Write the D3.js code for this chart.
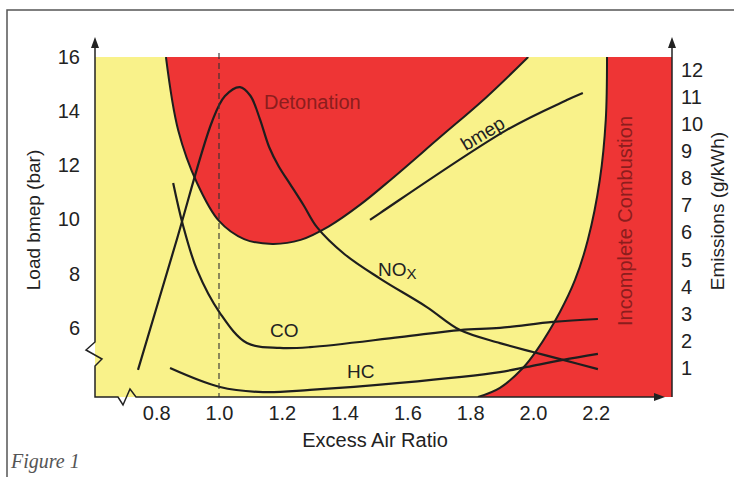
<!DOCTYPE html>
<html>
<head>
<meta charset="utf-8">
<script src="https://cdn.jsdelivr.net/npm/d3@7"></script>
<style>
  body { margin: 0; background: #fff; }
</style>
</head>
<body>
<script>
// axis ticks
var xTicks = [0.8, 1.0, 1.2, 1.4, 1.6, 1.8, 2.0, 2.2];
var bmepTicks = [6, 8, 10, 12, 14, 16];
var emisTicks = [1, 2, 3, 4, 5, 6, 7, 8, 9, 10, 11, 12];

// detonation limit (excess air ratio vs load bmep)
var detLambda = [0.831, 0.87, 0.93, 1.0, 1.08, 1.17, 1.26, 1.35, 1.45, 1.55, 1.70, 1.85, 1.985];
var detBmep   = [16.0, 13.3, 11.35, 9.95, 9.28, 9.1, 9.25, 9.75, 10.55, 11.5, 13.0, 14.5, 16.0];

// incomplete combustion limit (top to bottom)
var incLambda = [2.236, 2.232, 2.213, 2.175, 2.134, 2.086, 2.013, 1.968, 1.895, 1.825];
var incBmep   = [16.0, 13.68, 11.46, 9.25, 7.77, 6.59, 5.19, 4.52, 3.79, 3.45];

// bmep line
var bmepLambda = [1.481, 1.513, 1.917, 2.108, 2.159];
var bmepValues = [9.99, 10.24, 13.31, 14.41, 14.67];

// emissions (g/kWh)
var noxLambda = [0.742, 0.86, 0.978, 1.019, 1.067, 1.10, 1.13, 1.16, 1.19, 1.226, 1.27, 1.312, 1.40, 1.513, 1.662, 1.768, 1.895, 2.0, 2.096, 2.207];
var noxValues = [0.93, 5.52, 10.1, 11.04, 11.37, 11.05, 10.2, 9.15, 8.45, 7.8, 7.0, 6.2, 5.2, 4.3, 3.25, 2.40, 1.92, 1.59, 1.30, 0.96];
var coLambda = [0.854, 0.885, 0.930, 1.003, 1.089, 1.194, 1.290, 1.576, 1.768, 1.895, 2.064, 2.207];
var coValues = [7.83, 6.28, 4.62, 3.03, 1.92, 1.74, 1.77, 2.14, 2.40, 2.48, 2.70, 2.81];
var hcLambda = [0.844, 1.003, 1.140, 1.290, 1.576, 1.895, 1.981, 2.096, 2.207];
var hcValues = [1.0, 0.30, 0.11, 0.19, 0.45, 0.85, 1.04, 1.30, 1.52];

var w = 734, h = 477;
var pLeft = 95, pRight = 672, pTop = 57, pBottom = 397;
var yellow = "#f9f28a", red = "#ee3535", darkRed = "#8c1d1d", ink = "#1e1e1e";

var svg = d3.select("body").append("svg").attr("width", w).attr("height", h)
  .attr("font-family", "'Liberation Sans', Arial, sans-serif");

var x = d3.scaleLinear().domain([0.605, 2.443]).range([pLeft, pRight]);
var yL = d3.scaleLinear().domain([3.45, 16]).range([pBottom, pTop]);
var yR = d3.scaleLinear().domain([-0.07, 12.48]).range([pBottom, pTop]);

function pts(xs, ys) { return xs.map(function(v, i) { return [v, ys[i]]; }); }

// page border
svg.append("path").attr("d", "M7,477 L7,10 L734,10")
  .attr("fill", "none").attr("stroke", "#555").attr("stroke-width", 1.5);

svg.append("defs").append("clipPath").attr("id", "plot")
  .append("rect").attr("x", pLeft).attr("y", pTop).attr("width", pRight - pLeft).attr("height", pBottom - pTop);

var plot = svg.append("g").attr("clip-path", "url(#plot)");
plot.append("rect").attr("x", pLeft).attr("y", pTop).attr("width", pRight - pLeft).attr("height", pBottom - pTop)
  .attr("fill", yellow);

var curveL = d3.line().x(function(d) { return x(d[0]); }).y(function(d) { return yL(d[1]); })
  .curve(d3.curveCatmullRom.alpha(0.5));
var curveR = d3.line().x(function(d) { return x(d[0]); }).y(function(d) { return yR(d[1]); })
  .curve(d3.curveCatmullRom.alpha(0.5));

// red zones
var det = pts(detLambda, detBmep);
plot.append("path").attr("d", curveL(det) + "Z").attr("fill", red);
var inc = pts(incLambda, incBmep);
plot.append("path").attr("d", curveL(inc) + "L" + pRight + "," + pBottom + "L" + pRight + "," + pTop + "Z")
  .attr("fill", red);
plot.append("path").attr("d", curveL(det)).attr("fill", "none").attr("stroke", ink).attr("stroke-width", 2);
plot.append("path").attr("d", curveL(inc)).attr("fill", "none").attr("stroke", ink).attr("stroke-width", 2);

// lambda = 1 dashed line
svg.append("line").attr("x1", x(1)).attr("x2", x(1)).attr("y1", pTop - 4).attr("y2", pBottom)
  .attr("stroke", "#333").attr("stroke-width", 1.1).attr("stroke-dasharray", "6,4");

// curves
var lineStyle = function(sel) { sel.attr("fill", "none").attr("stroke", ink).attr("stroke-width", 2.2); };
plot.append("path").attr("d", curveL(pts(bmepLambda, bmepValues))).call(lineStyle);
plot.append("path").attr("d", curveR(pts(noxLambda, noxValues))).call(lineStyle);
plot.append("path").attr("d", curveR(pts(coLambda, coValues))).call(lineStyle);
plot.append("path").attr("d", curveR(pts(hcLambda, hcValues))).call(lineStyle);

// axis lines with breaks and arrows
var axisStyle = function(sel) { sel.attr("fill", "none").attr("stroke", "#222").attr("stroke-width", 1.5); };
svg.append("path").attr("d", "M95,42 L95,342 L86,350 L102,359 L95,366 L95,397 L118,397 L123,405 L130,389 L136,397 L658,397").call(axisStyle);
svg.append("path").attr("d", "M672,42 L672,397").call(axisStyle);
svg.append("path").attr("d", "M95,37 L91,48 L99,48 Z").attr("fill", "#222");
svg.append("path").attr("d", "M672,37 L668,48 L676,48 Z").attr("fill", "#222");
svg.append("path").attr("d", "M665,397 L654,393 L654,401 Z").attr("fill", "#222");

// tick labels
var xAxis = svg.append("g").attr("transform", "translate(0," + pBottom + ")")
  .call(d3.axisBottom(x).tickValues(xTicks).tickSize(0).tickPadding(9).tickFormat(d3.format(".1f")));
var lAxis = svg.append("g").attr("transform", "translate(" + pLeft + ",0)")
  .call(d3.axisLeft(yL).tickValues(bmepTicks).tickSize(0).tickPadding(15));
var rAxis = svg.append("g").attr("transform", "translate(" + pRight + ",0)")
  .call(d3.axisRight(yR).tickValues(emisTicks).tickSize(0).tickPadding(9));
[xAxis, lAxis, rAxis].forEach(function(a) {
  a.select(".domain").remove();
  a.attr("font-family", "'Liberation Sans', Arial, sans-serif").attr("font-size", 20);
  a.selectAll("text").attr("fill", "#222");
});

// axis titles
svg.append("text").attr("x", 375).attr("y", 447).attr("text-anchor", "middle")
  .attr("font-size", 20).attr("fill", "#222").text("Excess Air Ratio");
svg.append("text").attr("transform", "translate(40,220) rotate(-90)").attr("text-anchor", "middle")
  .attr("font-size", 19).attr("fill", "#222").text("Load bmep (bar)");
svg.append("text").attr("transform", "translate(724,211) rotate(-90)").attr("text-anchor", "middle")
  .attr("font-size", 19).attr("fill", "#222").text("Emissions (g/kWh)");

// in-chart labels
svg.append("text").attr("x", 264).attr("y", 109).attr("font-size", 20).attr("fill", darkRed).text("Detonation");
svg.append("text").attr("transform", "translate(632,221) rotate(-90)").attr("text-anchor", "middle")
  .attr("font-size", 20).attr("fill", darkRed).text("Incomplete Combustion");
svg.append("text").attr("transform", "translate(486,139) rotate(-31)").attr("text-anchor", "middle")
  .attr("font-size", 19).attr("fill", "#222").text("bmep");
var nox = svg.append("text").attr("x", 378).attr("y", 276).attr("font-size", 19).attr("fill", "#222");
nox.append("tspan").text("NO");
nox.append("tspan").attr("font-size", 15).attr("dy", 3).text("X");
svg.append("text").attr("x", 270).attr("y", 337).attr("font-size", 19).attr("fill", "#222").text("CO");
svg.append("text").attr("x", 347).attr("y", 378).attr("font-size", 19).attr("fill", "#222").text("HC");

// caption
svg.append("text").attr("x", 11).attr("y", 468).attr("font-size", 20).attr("font-style", "italic")
  .attr("font-family", "'Liberation Serif', 'Times New Roman', serif").attr("fill", "#555").text("Figure 1");
</script>
</body>
</html>
